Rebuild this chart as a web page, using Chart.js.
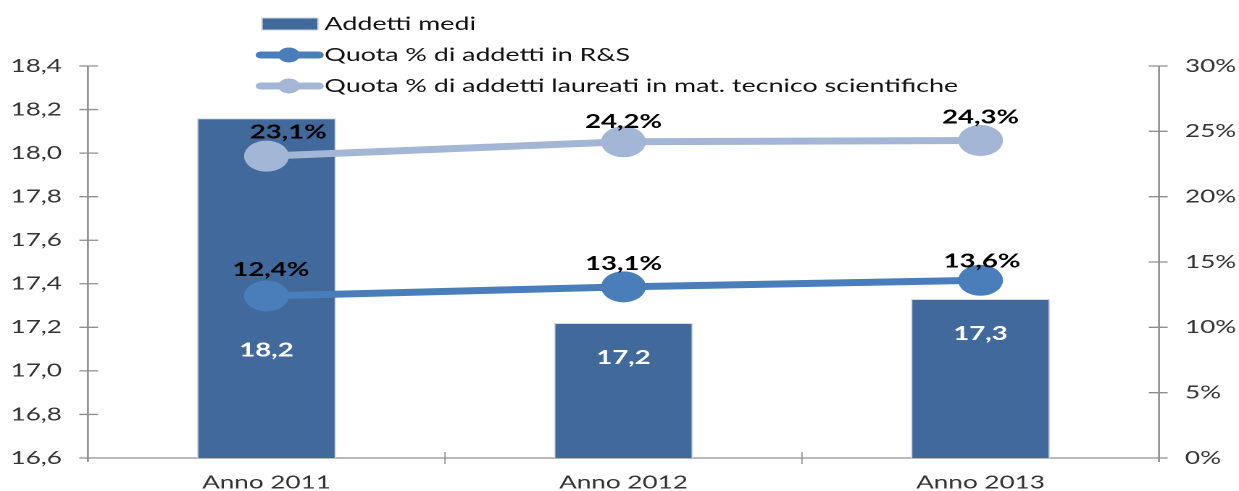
<!DOCTYPE html>
<html lang="it">
<head>
<meta charset="utf-8">
<title>Addetti medi e quote</title>
<script src="https://cdn.jsdelivr.net/npm/chart.js@4.4.1/dist/chart.umd.min.js"></script>
<style>
  html, body { margin: 0; padding: 0; background: #fff; overflow: hidden; }
  /* il grafico è disegnato stretto e poi allargato in orizzontale */
  #wrap { position: relative; width: 855px; height: 500px; transform: scaleX(1.4491); transform-origin: 0 0; }
</style>
</head>
<body>
<div id="wrap"><canvas id="grafico"></canvas></div>
<script>
// dati
const anni = ["Anno 2011", "Anno 2012", "Anno 2013"];
const addettiMedi = [18.16, 17.22, 17.33];
const quotaRS = [12.4, 13.1, 13.6];
const quotaLaureati = [23.1, 24.2, 24.3];
const tickSinistra = [16.6, 16.8, 17.0, 17.2, 17.4, 17.6, 17.8, 18.0, 18.2, 18.4];
const tickDestra = [0, 5, 10, 15, 20, 25, 30];
const nomiSerie = [
  "Addetti medi",
  "Quota % di addetti in R&S",
  "Quota % di addetti laureati in mat. tecnico scientifiche"
];

const coloreBarre = "#41699b";
const coloreRS = "#4a7ebb";
const coloreLaureati = "#a4b6d5";
const coloreAssi = "#8e8e8e";
const FONT = "Lato, 'DejaVu Sans', sans-serif";

// etichette delle barre: distanza dal bordo superiore
const scostBarre = [232, 35, 35];
// spostamento delle etichette delle linee
const dxLaureati = [15, 0, 0];
const dxRS = [3, 0, 1];
const dyLaureati = [-24, -20, -23];
const dyRS = [-26, -23, -19];

const virgola = (v, d) => v.toFixed(d).replace(".", ",");

// assi con tacche a croce
const assi = {
  id: "assi",
  beforeDatasetsDraw(chart) {
    const { ctx, chartArea: a, scales } = chart;
    ctx.save();
    ctx.strokeStyle = coloreAssi;
    ctx.lineWidth = 1.3;
    ctx.beginPath();
    ctx.moveTo(a.left, a.top);
    ctx.lineTo(a.left, a.bottom + 4);
    ctx.moveTo(a.right, a.top);
    ctx.lineTo(a.right, a.bottom + 4);
    ctx.moveTo(a.left - 6, a.bottom);
    ctx.lineTo(a.right, a.bottom);
    tickSinistra.forEach(v => {
      const y = scales.y.getPixelForValue(v);
      ctx.moveTo(a.left - 6, y);
      ctx.lineTo(a.left + 7, y);
    });
    tickDestra.forEach(v => {
      const y = scales.y1.getPixelForValue(v);
      ctx.moveTo(a.right - 7, y);
      ctx.lineTo(a.right + 6, y);
    });
    ctx.stroke();
    ctx.lineWidth = 0.8;
    ctx.beginPath();
    for (let i = 1; i < anni.length; i++) {
      const x = (scales.x.getPixelForValue(i - 1) + scales.x.getPixelForValue(i)) / 2;
      ctx.moveTo(x, a.bottom - 6);
      ctx.lineTo(x, a.bottom + 6);
    }
    ctx.stroke();
    ctx.restore();
  }
};

// etichette dei valori
const etichette = {
  id: "etichette",
  afterDatasetsDraw(chart) {
    const { ctx } = chart;
    ctx.save();
    ctx.textAlign = "center";
    ctx.textBaseline = "middle";
    ctx.font = "bold 19px " + FONT;

    ctx.fillStyle = "#ffffff";
    chart.getDatasetMeta(0).data.forEach((bar, i) => {
      ctx.fillText(virgola(addettiMedi[i], 1), bar.x, bar.y + scostBarre[i]);
    });

    ctx.fillStyle = "#000000";
    chart.getDatasetMeta(1).data.forEach((p, i) => {
      ctx.fillText(virgola(quotaRS[i], 1) + "%", p.x + dxRS[i], p.y + dyRS[i]);
    });
    chart.getDatasetMeta(2).data.forEach((p, i) => {
      ctx.fillText(virgola(quotaLaureati[i], 1) + "%", p.x + dxLaureati[i], p.y + dyLaureati[i]);
    });
    ctx.restore();
  }
};

// legenda verticale in alto
const legenda = {
  id: "legenda",
  afterDraw(chart) {
    const { ctx } = chart;
    const x0 = 177.4;
    const righe = [24, 55, 86];
    ctx.save();
    ctx.font = "18.5px " + FONT;
    ctx.textBaseline = "middle";
    ctx.textAlign = "left";

    ctx.fillStyle = coloreBarre;
    ctx.fillRect(x0 + 3.4, righe[0] - 6, 38.6, 12);
    ctx.strokeStyle = "#c8d2e0";
    ctx.lineWidth = 1;
    ctx.strokeRect(x0 + 3.4, righe[0] - 6, 38.6, 12);

    [[coloreRS, righe[1]], [coloreLaureati, righe[2]]].forEach(([col, y]) => {
      ctx.strokeStyle = col;
      ctx.lineWidth = 7;
      ctx.lineCap = "round";
      ctx.beginPath();
      ctx.moveTo(x0 + 2.5, y);
      ctx.lineTo(x0 + 42.5, y);
      ctx.stroke();
      ctx.fillStyle = col;
      ctx.beginPath();
      ctx.arc(x0 + 22, y, 7.5, 0, Math.PI * 2);
      ctx.fill();
    });

    ctx.fillStyle = "#111111";
    nomiSerie.forEach((t, i) => ctx.fillText(t, x0 + 46.5, righe[i]));
    ctx.restore();
  }
};

const ctx = document.getElementById("grafico").getContext("2d");
new Chart(ctx, {
  data: {
    labels: anni,
    datasets: [
      {
        type: "bar",
        label: nomiSerie[0],
        data: addettiMedi,
        yAxisID: "y",
        backgroundColor: coloreBarre,
        borderColor: "#d3dae4",
        borderWidth: 1,
        categoryPercentage: 1,
        barPercentage: 0.39,
        order: 2
      },
      {
        type: "line",
        label: nomiSerie[1],
        data: quotaRS,
        yAxisID: "y1",
        borderColor: coloreRS,
        borderWidth: 7,
        pointBackgroundColor: coloreRS,
        pointBorderWidth: 0,
        pointRadius: 15.5,
        order: 1
      },
      {
        type: "line",
        label: nomiSerie[2],
        data: quotaLaureati,
        yAxisID: "y1",
        borderColor: coloreLaureati,
        borderWidth: 7,
        pointBackgroundColor: coloreLaureati,
        pointBorderWidth: 0,
        pointRadius: 15.5,
        order: 0
      }
    ]
  },
  options: {
    responsive: true,
    maintainAspectRatio: false,
    animation: false,
    devicePixelRatio: 2,
    layout: { padding: { top: 66, left: 0, right: 0, bottom: 0 } },
    plugins: {
      legend: { display: false },
      tooltip: { enabled: false }
    },
    scales: {
      x: {
        afterFit: s => { s.height = 42; },
        grid: { display: false },
        border: { display: false },
        ticks: { color: "#333", font: { family: FONT, size: 18 }, padding: 6 }
      },
      y: {
        position: "left",
        min: 16.6,
        max: 18.4,
        afterFit: s => { s.width = 60.7; },
        afterBuildTicks: s => { s.ticks = tickSinistra.map(v => ({ value: v })); },
        grid: { display: false },
        border: { display: false },
        ticks: {
          color: "#333",
          font: { family: FONT, size: 18 },
          padding: 10,
          callback: v => virgola(v, 1)
        }
      },
      y1: {
        position: "right",
        min: 0,
        max: 30,
        afterFit: s => { s.width = 55.2; },
        afterBuildTicks: s => { s.ticks = tickDestra.map(v => ({ value: v })); },
        grid: { display: false },
        border: { display: false },
        ticks: {
          color: "#333",
          font: { family: FONT, size: 18 },
          padding: 10,
          callback: v => v + "%"
        }
      }
    }
  },
  plugins: [assi, etichette, legenda]
});
</script>
</body>
</html>
